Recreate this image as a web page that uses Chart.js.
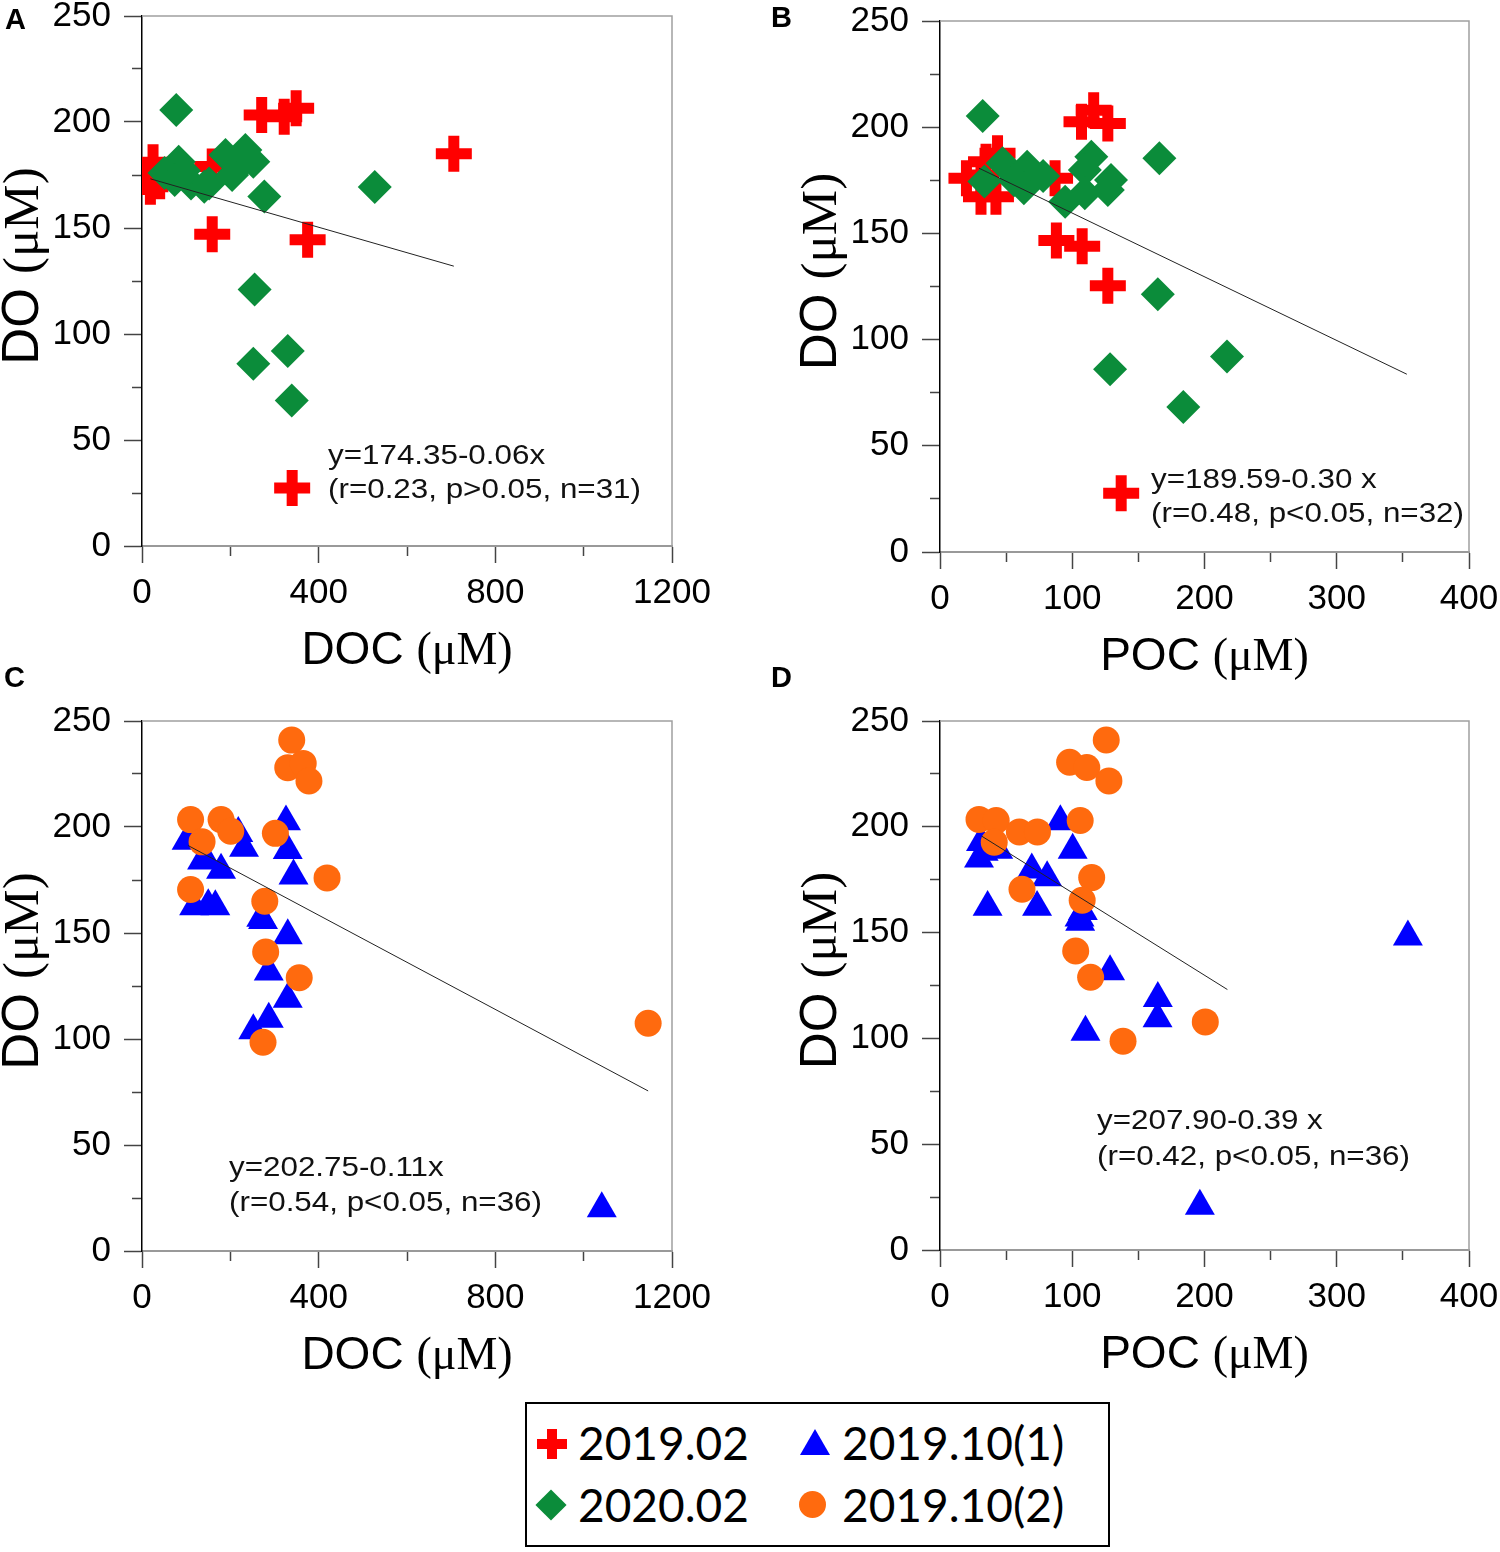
<!DOCTYPE html>
<html>
<head>
<meta charset="utf-8">
<script src="https://cdn.jsdelivr.net/npm/chart.js@4.4.1/dist/chart.umd.min.js"></script>
<style>
    body { margin: 0; background: #fff; width: 1500px; height: 1552px; position: relative; overflow: hidden; }
    canvas { position: absolute; }
    .letter { position: absolute; font-family: "Liberation Sans", Arial, sans-serif; font-weight: bold; font-size: 29px; line-height: 29px; color: #000; }
    #legend { position: absolute; left: 525px; top: 1402px; width: 581px; height: 141px; border: 2px solid #000; font-family: Lato, "Open Sans", sans-serif; font-size: 46px; color: #000; }
    #legend .txt { position: absolute; line-height: 46px; white-space: nowrap; }
    #legend .mk { position: absolute; }
</style>
</head>
<body>
<canvas id="chartA" width="760" height="710" style="left:0px;top:-20px"></canvas>
<canvas id="chartB" width="780" height="710" style="left:760px;top:-20px"></canvas>
<canvas id="chartC" width="760" height="710" style="left:0px;top:690px"></canvas>
<canvas id="chartD" width="780" height="710" style="left:760px;top:690px"></canvas>

<div class="letter" style="left:5px;top:5px">A</div>
<div class="letter" style="left:771px;top:3px">B</div>
<div class="letter" style="left:4px;top:663px">C</div>
<div class="letter" style="left:771px;top:663px">D</div>

<div id="legend">
    <div class="mk" style="left:10px;top:35px;width:30px;height:10px;background:#ff0000"></div>
    <div class="mk" style="left:20px;top:25px;width:10px;height:30px;background:#ff0000"></div>
    <div class="txt" style="left:51px;top:16px">2019.02</div>

    <div class="mk" style="left:273px;top:25px;width:0;height:0;border-left:15px solid transparent;border-right:15px solid transparent;border-bottom:26px solid #0000ff"></div>
    <div class="txt" style="left:315px;top:16px">2019.10(1)</div>

    <div class="mk" style="left:13px;top:90px;width:22px;height:22px;background:#0b8c3a;transform:rotate(45deg)"></div>
    <div class="txt" style="left:51px;top:78px">2020.02</div>

    <div class="mk" style="left:272px;top:87px;width:27px;height:27px;border-radius:50%;background:#ff6a0e"></div>
    <div class="txt" style="left:315px;top:78px">2019.10(2)</div>
</div>

<script>
// ---- panel A : DOC vs DO ----
var a_doc_1902 = [271, 322, 349, 706, 159, 159, 375, 340, 10, 19, 25, 40];
var a_do_1902 = [203.3, 202.5, 206.5, 185, 179, 147, 144.5, 27.3, 174, 169.5, 181, 172];
var a_doc_2002 = [77.5, 83, 51, 95, 74, 111, 141, 152, 189, 204, 219, 234, 252, 277, 527, 255, 252, 330, 339];
var a_do_2002 = [205.7, 181.3, 176, 177, 172.6, 171, 169.5, 171, 184.4, 175, 179, 186.8, 181.3, 164.8, 169.3, 121, 86, 92, 68.6];
var a_fit_x = [19, 706];
var a_fit_y = [173.2, 132.0];

// ---- panel B : POC vs DO ----
var b_poc_1902 = [107, 116.2, 126.9, 87, 88, 107.5, 126.9, 137, 20, 31, 34.8, 43.5, 31, 42.3];
var b_do_1902 = [202.6, 208, 201.8, 176, 146.6, 143.9, 125.3, 27.7, 176, 177.5, 183.7, 187.7, 167.3, 167.3];
var b_poc_2002 = [32.3, 33.6, 47.3, 65.9, 63.4, 56, 78, 114.4, 109.5, 129.3, 126.9, 109.5, 94.6, 165.9, 164.7, 128.6, 217, 184];
var b_do_2002 = [205.3, 174.4, 183, 181.4, 171.2, 175, 177, 186.1, 179.8, 175.1, 170.4, 168.9, 164.9, 185.4, 121.3, 86, 92, 68.3];
var b_fit_x = [29.5, 353];
var b_fit_y = [180.7, 83.7];

// ---- panel C : DOC vs DO ----
var c_doc_1910a = [326, 218, 231, 101, 144, 136, 179, 330, 343, 118, 150, 166, 270, 274, 330, 287, 330, 287, 252, 1041];
var c_do_1910a = [202.5, 197, 190, 193.4, 185, 184, 179.7, 189, 177, 162.5, 163, 162.5, 157, 156, 148.8, 131.7, 118.8, 109.4, 104, 20];
var c_doc_1910b = [339, 330, 365, 378, 110, 179, 201, 136, 302, 419, 110, 278, 280, 356, 274, 1146];
var c_do_1910b = [241, 228, 230, 221.7, 203.5, 203.5, 198, 193, 197, 176, 170.5, 165, 141, 128.9, 98.5, 107.4];
var c_fit_x = [104, 1146];
var c_fit_y = [191.3, 75.5];

// ---- panel D : POC vs DO ----
var d_poc_1910a = [91, 29.5, 31, 33, 44, 100.3, 69.4, 81, 36, 73.4, 105.5, 106, 108, 128.6, 164.7, 164.5, 110, 353.8, 196.5];
var d_do_1910a = [202.5, 184.8, 192.7, 188, 189, 189, 179.7, 176, 162, 162, 157, 155, 160, 131.6, 118.9, 109.3, 103, 148, 20.8];
var d_poc_1910b = [125.7, 98, 111, 127.7, 29.5, 42.5, 41, 60, 73.7, 106, 114.7, 62, 107.5, 102.6, 113.9, 200.6, 138.4];
var d_do_1910b = [241, 230.5, 228, 221.7, 203.5, 203, 192.7, 197.6, 197.6, 203, 176, 170.5, 165.3, 141.3, 128.9, 107.8, 98.7];
var d_fit_x = [31.5, 217.3];
var d_fit_y = [195.6, 123.1];

var yTicks = { min: 0, max: 250, step: 25, labelEvery: 50 };

var colorScheme = {
    red: "#ff0000",
    green: "#0b8c3a",
    blue: "#0000ff",
    orange: "#ff6a0e",
    fit: "#222",
};

var tickFont = { family: "'Liberation Sans', Arial, sans-serif", size: 35 };

const pairs = (xs, ys) => {
    var data = [];
    for (var i = 0; i < xs.length; i++) {
        data.push({ x: xs[i], y: ys[i] });
    }
    return data;
};

function crossSet(label, xs, ys) {
    return { label: label, data: pairs(xs, ys), pointStyle: "cross", pointRadius: 18,
        pointBorderWidth: 11, pointBorderColor: colorScheme.red, pointBackgroundColor: colorScheme.red, order: 2 };
}
function diamondSet(label, xs, ys) {
    return { label: label, data: pairs(xs, ys), pointStyle: "rectRot", pointRadius: 17,
        pointBorderWidth: 0, pointBackgroundColor: colorScheme.green, order: 1 };
}
function triangleSet(label, xs, ys) {
    return { label: label, data: pairs(xs, ys), pointStyle: "triangle", pointRadius: 17.3,
        pointBorderWidth: 0, pointBackgroundColor: colorScheme.blue, order: 2 };
}
function circleSet(label, xs, ys) {
    return { label: label, data: pairs(xs, ys), pointStyle: "circle", pointRadius: 13.5,
        pointBorderWidth: 0, pointBackgroundColor: colorScheme.orange, order: 1 };
}
function fitSet(xs, ys) {
    return { label: "fit", data: pairs(xs, ys), showLine: true, pointRadius: 0,
        borderColor: colorScheme.fit, borderWidth: 1, fill: false, order: 0 };
}

// title with sans part + serif "(μM)"
function drawMixed(c, parts, x, y, size, rotated) {
    c.save();
    c.font = size + "px 'Liberation Sans'";
    var w0 = c.measureText(parts[0]).width;
    c.font = size + "px 'Liberation Serif'";
    var w1 = c.measureText(parts[1]).width;
    c.translate(x, y);
    if (rotated) c.rotate(-Math.PI / 2);
    c.textBaseline = "alphabetic";
    c.textAlign = "left";
    c.fillStyle = "#000";
    c.font = size + "px 'Liberation Sans'";
    c.fillText(parts[0], -(w0 + w1) / 2, 0);
    c.font = size + "px 'Liberation Serif'";
    c.fillText(parts[1], -(w0 + w1) / 2 + w0, 0);
    c.restore();
}

var panelDecor = {
    id: "panelDecor",
    beforeDatasetsDraw: function (chart) {
        var c = chart.ctx, a = chart.chartArea;
        c.save();
        c.strokeStyle = "#a0a0a0";
        c.lineWidth = 1.5;
        c.beginPath();
        c.moveTo(a.left, a.top);
        c.lineTo(a.right, a.top);
        c.lineTo(a.right, a.bottom);
        c.stroke();
        c.restore();
    },
    afterDraw: function (chart, args, opts) {
        var c = chart.ctx, a = chart.chartArea;
        drawMixed(c, opts.xTitle, (a.left + a.right) / 2, a.bottom + 118, 46, false);
        drawMixed(c, opts.yTitle, a.left - 104, (a.top + a.bottom) / 2 - 15, 51, true);
        c.save();
        c.fillStyle = "#111";
        c.font = "28px 'Liberation Sans'";
        c.textBaseline = "alphabetic";
        for (var i = 0; i < opts.eq.length; i++) {
            c.save();
            c.translate(opts.eqX, opts.eqY[i]);
            c.scale(1.12, 1);
            c.fillText(opts.eq[i], 0, 0);
            c.restore();
        }
        c.restore();
    },
};

function init_panel(id, p) {
    var ctx = document.getElementById(id).getContext("2d");
    var yAxisW = p.plot.left - p.origin.x;
    var xAxisH = p.origin.y + p.size.h - p.plot.bottom;
    // equation position given in page pixels, moved into canvas pixels
    p.decor.eqX = p.decor.eqX - p.origin.x;
    p.decor.eqY = p.decor.eqY.map((v) => v - p.origin.y);
    return new Chart(ctx, {
        type: "scatter",
        data: { datasets: p.datasets },
        plugins: [panelDecor],
        options: {
            responsive: false,
            animation: false,
            events: [],
            layout: {
                padding: { left: 0, bottom: 0, top: p.plot.top - p.origin.y, right: p.origin.x + p.size.w - p.plot.right },
            },
            scales: {
                x: {
                    type: "linear",
                    position: "bottom",
                    min: 0,
                    max: p.xMax,
                    ticks: {
                        stepSize: p.xStep,
                        autoSkip: false,
                        maxRotation: 0,
                        padding: 9,
                        color: "#000",
                        font: tickFont,
                        callback: (v) => (v % p.xLabel === 0 ? v : ""),
                    },
                    grid: {
                        drawOnChartArea: false,
                        drawTicks: true,
                        tickLength: 17,
                        tickColor: "#444",
                        tickWidth: 1.5,
                        tickBorderDash: (c) => (c.tick && c.tick.value % p.xLabel === 0 ? [] : [9, 100]),
                    },
                    border: { display: true, color: "#999", width: 2 },
                    afterFit: (s) => {
                        s.height = xAxisH;
                        s.paddingLeft = 0;
                        s.paddingRight = 0;
                    },
                },
                y: {
                    type: "linear",
                    position: "left",
                    min: yTicks.min,
                    max: yTicks.max,
                    ticks: {
                        stepSize: yTicks.step,
                        autoSkip: false,
                        padding: 13,
                        color: "#000",
                        font: tickFont,
                        callback: (v) => (v % yTicks.labelEvery === 0 ? v : ""),
                    },
                    grid: {
                        drawOnChartArea: false,
                        drawTicks: true,
                        tickLength: 18,
                        tickColor: "#444",
                        tickWidth: 1.5,
                        tickBorderDash: (c) => (c.tick && c.tick.value % yTicks.labelEvery === 0 ? [] : [0, 8, 10, 100]),
                    },
                    border: { display: true, color: "#000", width: 1.5 },
                    afterFit: (s) => {
                        s.width = yAxisW;
                        s.paddingTop = 0;
                        s.paddingBottom = 0;
                    },
                },
            },
            plugins: {
                legend: { display: false },
                tooltip: { enabled: false },
                panelDecor: p.decor,
            },
        },
    });
}

init_panel("chartA", {
    origin: { x: 0, y: -20 }, size: { w: 760, h: 710 },
    plot: { left: 142, right: 672, top: 16, bottom: 546 },
    xMax: 1200, xStep: 200, xLabel: 400,
    datasets: [fitSet(a_fit_x, a_fit_y), diamondSet("2020.02", a_doc_2002, a_do_2002), crossSet("2019.02", a_doc_1902, a_do_1902)],
    decor: { xTitle: ["DOC ", "(\u03bcM)"], yTitle: ["DO ", "(\u03bcM)"], eq: ["y=174.35-0.06x", "(r=0.23, p>0.05, n=31)"], eqX: 328, eqY: [464, 498] },
});

init_panel("chartB", {
    origin: { x: 760, y: -20 }, size: { w: 780, h: 710 },
    plot: { left: 940, right: 1469, top: 21, bottom: 552 },
    xMax: 400, xStep: 50, xLabel: 100,
    datasets: [fitSet(b_fit_x, b_fit_y), diamondSet("2020.02", b_poc_2002, b_do_2002), crossSet("2019.02", b_poc_1902, b_do_1902)],
    decor: { xTitle: ["POC ", "(\u03bcM)"], yTitle: ["DO ", "(\u03bcM)"], eq: ["y=189.59-0.30 x", "(r=0.48, p<0.05, n=32)"], eqX: 1151, eqY: [488, 522] },
});

init_panel("chartC", {
    origin: { x: 0, y: 690 }, size: { w: 760, h: 710 },
    plot: { left: 142, right: 672, top: 721, bottom: 1251 },
    xMax: 1200, xStep: 200, xLabel: 400,
    datasets: [fitSet(c_fit_x, c_fit_y), circleSet("2019.10(2)", c_doc_1910b, c_do_1910b), triangleSet("2019.10(1)", c_doc_1910a, c_do_1910a)],
    decor: { xTitle: ["DOC ", "(\u03bcM)"], yTitle: ["DO ", "(\u03bcM)"], eq: ["y=202.75-0.11x", "(r=0.54, p<0.05, n=36)"], eqX: 229, eqY: [1176, 1211] },
});

init_panel("chartD", {
    origin: { x: 760, y: 690 }, size: { w: 780, h: 710 },
    plot: { left: 940, right: 1469, top: 721, bottom: 1250 },
    xMax: 400, xStep: 50, xLabel: 100,
    datasets: [fitSet(d_fit_x, d_fit_y), circleSet("2019.10(2)", d_poc_1910b, d_do_1910b), triangleSet("2019.10(1)", d_poc_1910a, d_do_1910a)],
    decor: { xTitle: ["POC ", "(\u03bcM)"], yTitle: ["DO ", "(\u03bcM)"], eq: ["y=207.90-0.39 x", "(r=0.42, p<0.05, n=36)"], eqX: 1097, eqY: [1129, 1165] },
});
</script>
</body>
</html>
